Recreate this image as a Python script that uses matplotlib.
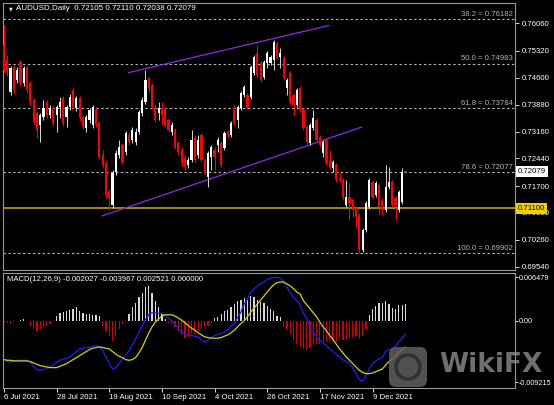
import numpy as np
import matplotlib.pyplot as plt
from matplotlib.patches import FancyBboxPatch, Circle
import matplotlib.transforms as mtransforms

# daily AUDUSD candles (bar 0 = 6 Jul 2021)
open_ = [0.7548, 0.7508, 0.7422, 0.7489, 0.7454, 0.7502, 0.7446, 0.7489, 0.7446, 0.7401,
         0.7366, 0.7334, 0.7355, 0.7395, 0.7360, 0.7379, 0.7360, 0.7382, 0.7406, 0.7355,
         0.7382, 0.7427, 0.7379, 0.7406, 0.7355, 0.7326, 0.7347, 0.7334, 0.7374, 0.7339,
         0.7253, 0.7232, 0.7154, 0.7119, 0.7208, 0.7253, 0.7280, 0.7261, 0.7307, 0.7293,
         0.7288, 0.7315, 0.7366, 0.7395, 0.7459, 0.7441, 0.7382, 0.7366, 0.7379, 0.7374,
         0.7347, 0.7315, 0.7320, 0.7285, 0.7267, 0.7245, 0.7226, 0.7240, 0.7299, 0.7253,
         0.7307, 0.7240, 0.7194, 0.7248, 0.7267, 0.7280, 0.7285, 0.7272, 0.7315, 0.7307,
         0.7374, 0.7347, 0.7379, 0.7414, 0.7414, 0.7409, 0.7473, 0.7527, 0.7500, 0.7462,
         0.7500, 0.7500, 0.7508, 0.7553, 0.7516, 0.7513, 0.7433, 0.7473, 0.7414, 0.7387,
         0.7433, 0.7374, 0.7328, 0.7285, 0.7326, 0.7347, 0.7301, 0.7259, 0.7293, 0.7240,
         0.7218, 0.7226, 0.7192, 0.7186, 0.7119, 0.7141, 0.7133, 0.7111, 0.7092, 0.6999,
         0.7052, 0.7114, 0.7181, 0.7146, 0.7173, 0.7133, 0.7106, 0.7168, 0.7181, 0.7138,
         0.7106, 0.7127, 0.72105]
high = [0.7602, 0.7521, 0.7492, 0.7494, 0.7489, 0.7508, 0.7492, 0.7494, 0.7451, 0.7406,
        0.7371, 0.7366, 0.7401, 0.7401, 0.7387, 0.7384, 0.7387, 0.7409, 0.7411, 0.7387,
        0.7417, 0.7435, 0.7411, 0.7411, 0.7360, 0.7360, 0.7379, 0.7387, 0.7382, 0.7344,
        0.7267, 0.7240, 0.7162, 0.7213, 0.7267, 0.7293, 0.7285, 0.7317, 0.7315, 0.7328,
        0.7326, 0.7374, 0.7409, 0.7481, 0.7465, 0.7446, 0.7390, 0.7395, 0.7395, 0.7379,
        0.7352, 0.7342, 0.7326, 0.7291, 0.7275, 0.7253, 0.7248, 0.7320, 0.7307, 0.7307,
        0.7312, 0.7245, 0.7264, 0.7280, 0.7275, 0.7301, 0.7291, 0.7317, 0.7320, 0.7344,
        0.7387, 0.7387, 0.7425, 0.7441, 0.7419, 0.7494, 0.7521, 0.7548, 0.7505, 0.7508,
        0.7532, 0.7521, 0.7561, 0.7559, 0.7540, 0.7518, 0.7459, 0.7478, 0.7419, 0.7433,
        0.7438, 0.7379, 0.7334, 0.7339, 0.7374, 0.7352, 0.7307, 0.7293, 0.7299, 0.7267,
        0.7240, 0.7232, 0.7208, 0.7192, 0.7186, 0.7178, 0.7138, 0.7117, 0.7098, 0.7058,
        0.7130, 0.7192, 0.7186, 0.7184, 0.7178, 0.7138, 0.7226, 0.7221, 0.7186, 0.7143,
        0.7159, 0.7218, 0.72110]
low = [0.7476, 0.7465, 0.7414, 0.7419, 0.7446, 0.7438, 0.7438, 0.7419, 0.7387, 0.7336,
       0.7299, 0.7288, 0.7347, 0.7352, 0.7352, 0.7331, 0.7315, 0.7352, 0.7331, 0.7328,
       0.7374, 0.7376, 0.7371, 0.7344, 0.7323, 0.7315, 0.7339, 0.7326, 0.7328, 0.7243,
       0.7218, 0.7138, 0.7106, 0.7111, 0.7200, 0.7245, 0.7229, 0.7253, 0.7280, 0.7285,
       0.7280, 0.7309, 0.7358, 0.7390, 0.7422, 0.7376, 0.7342, 0.7347, 0.7334, 0.7328,
       0.7315, 0.7307, 0.7269, 0.7253, 0.7224, 0.7213, 0.7218, 0.7234, 0.7232, 0.7245,
       0.7234, 0.7200, 0.7168, 0.7213, 0.7213, 0.7261, 0.7221, 0.7267, 0.7299, 0.7301,
       0.7334, 0.7326, 0.7374, 0.7409, 0.7376, 0.7403, 0.7468, 0.7462, 0.7449, 0.7457,
       0.7486, 0.7494, 0.7481, 0.7510, 0.7486, 0.7454, 0.7414, 0.7390, 0.7360, 0.7382,
       0.7368, 0.7320, 0.7283, 0.7280, 0.7320, 0.7288, 0.7275, 0.7248, 0.7226, 0.7216,
       0.7208, 0.7181, 0.7181, 0.7133, 0.7114, 0.7079, 0.7087, 0.7060, 0.6990, 0.6993,
       0.7047, 0.7109, 0.7135, 0.7141, 0.7092, 0.7092, 0.7101, 0.7162, 0.7114, 0.7079,
       0.7101, 0.7122, 0.72038]
close = [0.7481, 0.7473, 0.7486, 0.7427, 0.7481, 0.7446, 0.7486, 0.7427, 0.7395, 0.7342,
         0.7320, 0.7360, 0.7379, 0.7360, 0.7379, 0.7339, 0.7382, 0.7395, 0.7339, 0.7382,
         0.7409, 0.7382, 0.7406, 0.7352, 0.7328, 0.7355, 0.7374, 0.7382, 0.7334, 0.7248,
         0.7226, 0.7146, 0.7138, 0.7205, 0.7259, 0.7275, 0.7234, 0.7312, 0.7288, 0.7320,
         0.7315, 0.7368, 0.7401, 0.7454, 0.7433, 0.7382, 0.7347, 0.7379, 0.7360, 0.7334,
         0.7320, 0.7334, 0.7275, 0.7261, 0.7232, 0.7221, 0.7240, 0.7293, 0.7240, 0.7293,
         0.7240, 0.7205, 0.7259, 0.7275, 0.7248, 0.7293, 0.7226, 0.7312, 0.7307, 0.7339,
         0.7339, 0.7382, 0.7419, 0.7435, 0.7382, 0.7489, 0.7516, 0.7468, 0.7454, 0.7502,
         0.7527, 0.7516, 0.7556, 0.7516, 0.7527, 0.7459, 0.7454, 0.7395, 0.7387, 0.7427,
         0.7374, 0.7326, 0.7288, 0.7334, 0.7352, 0.7293, 0.7280, 0.7288, 0.7232, 0.7221,
         0.7234, 0.7186, 0.7186, 0.7138, 0.7141, 0.7125, 0.7106, 0.7087, 0.6999, 0.7052,
         0.7125, 0.7186, 0.7141, 0.7178, 0.7114, 0.7106, 0.7168, 0.7181, 0.7119, 0.7119,
         0.7154, 0.7208, 0.72079]

# MACD(12,26,9) sub window
macd_hist = [-0.0002, -0.0004, -0.0003, -0.0002, -0.0001, 0.0001, 0.0003, -0.0001, -0.0008, -0.0013,
             -0.0015, -0.0013, -0.0010, -0.0008, -0.0005, -0.0002, 0.00075, 0.0011, 0.00125, 0.0014,
             0.0016, 0.0017, 0.0020, 0.0015, 0.00115, 0.0010, 0.0010, 0.0009, 0.00085, 0.00075,
             -0.00075, -0.0015, -0.00225, -0.0030, -0.00225, -0.00125, -0.0005, -0.00015, 0.0010, 0.0020,
             0.0027, 0.0035, 0.0042, 0.0050, 0.0052, 0.0042, 0.0030, 0.0020, 0.0010, 0.0002,
             -0.0003, -0.0005, -0.0010, -0.0015, -0.0021, -0.0025, -0.0024, -0.0020, -0.0019, -0.0015,
             -0.0012, -0.0010, -0.0008, -0.0004, 0.0004, 0.0006, 0.0010, 0.0014, 0.0016, 0.0020,
             0.0025, 0.0029, 0.0031, 0.0034, 0.0034, 0.0037, 0.0035, 0.0031, 0.0028, 0.0026,
             0.0022, 0.0017, 0.0015, 0.00075, 0.0005, -0.00075, -0.00125, -0.0020, -0.0029, -0.0035,
             -0.0039, -0.0042, -0.0044, -0.0040, -0.0036, -0.0035, -0.0034, -0.0032, -0.0032, -0.0031,
             -0.0030, -0.0030, -0.0029, -0.0028, -0.0027, -0.0025, -0.0024, -0.0022, -0.0027, -0.0022,
             -0.00125, 0.0008, 0.0017, 0.0022, 0.0026, 0.0027, 0.0030, 0.0025, 0.0019, 0.0017,
             0.0024, 0.0024, 0.002521]
macd_main = [-0.0057, -0.0061, -0.0062, -0.0060, -0.0059, -0.0059, -0.0059, -0.0059, -0.0062, -0.0068,
             -0.0073, -0.0074, -0.0073, -0.0071, -0.0069, -0.0066, -0.0062, -0.0059, -0.0057, -0.0056,
             -0.0054, -0.0050, -0.0046, -0.0042, -0.0041, -0.0040, -0.0040, -0.0038, -0.0037, -0.0039,
             -0.0045, -0.0054, -0.0064, -0.0072, -0.0070, -0.0064, -0.0057, -0.0051, -0.0045, -0.0036,
             -0.0027, -0.0017, -0.0008, 0.0002, 0.0009, 0.0012, 0.0012, 0.0011, 0.0011, 0.0008,
             0.0004, 0.0000, -0.0006, -0.0012, -0.0017, -0.0020, -0.0022, -0.0022, -0.0023, -0.0024,
             -0.0028, -0.0032, -0.0029, -0.0025, -0.0022, -0.0020, -0.0019, -0.0017, -0.0013, -0.0008,
             -0.0003, 0.0005, 0.0013, 0.0025, 0.0032, 0.0043, 0.0048, 0.0052, 0.0055, 0.0058,
             0.0062, 0.0064, 0.0065, 0.0065, 0.0064, 0.0058, 0.0050, 0.0042, 0.0035, 0.0030,
             0.0024, 0.0011, 0.0004, -0.0010, -0.0017, -0.0024, -0.0029, -0.0033, -0.0037, -0.0042,
             -0.0046, -0.0050, -0.0054, -0.0058, -0.0061, -0.0064, -0.0070, -0.0079, -0.0088, -0.0090,
             -0.0082, -0.0072, -0.0064, -0.0060, -0.0057, -0.0055, -0.0046, -0.0043, -0.0042, -0.0038,
             -0.0031, -0.0026, -0.002027]
macd_signal = [-0.0058, -0.0059, -0.0059, -0.0060, -0.0060, -0.0060, -0.0060, -0.0060, -0.0061, -0.0063,
               -0.0065, -0.0067, -0.0068, -0.0069, -0.0070, -0.0070, -0.0070, -0.0068, -0.0066, -0.0064,
               -0.0061, -0.0058, -0.0055, -0.0052, -0.0049, -0.0046, -0.0043, -0.0041, -0.0040, -0.0039,
               -0.0040, -0.0041, -0.0042, -0.0046, -0.0050, -0.0053, -0.0055, -0.0058, -0.0059, -0.0058,
               -0.0055, -0.0048, -0.0040, -0.0029, -0.0018, -0.0009, -0.0002, 0.0003, 0.0007, 0.0009,
               0.0009, 0.0009, 0.0007, 0.0004, 0.0001, -0.0003, -0.0007, -0.0011, -0.0014, -0.0018,
               -0.0021, -0.0024, -0.0025, -0.0026, -0.0026, -0.0026, -0.0025, -0.0023, -0.0021, -0.0018,
               -0.0014, -0.0009, -0.0004, 0.0000, 0.0006, 0.0013, 0.0019, 0.0025, 0.0031, 0.0037,
               0.0043, 0.0049, 0.0054, 0.0057, 0.0058, 0.0058, 0.0055, 0.0052, 0.0048, 0.0043,
               0.0040, 0.0030, 0.0024, 0.0018, 0.0012, 0.0006, -0.0002, -0.0009, -0.0015, -0.0022,
               -0.0028, -0.0035, -0.0042, -0.0048, -0.0054, -0.0059, -0.0064, -0.0069, -0.0074, -0.0077,
               -0.0079, -0.0079, -0.0078, -0.0076, -0.0074, -0.0072, -0.0066, -0.0061, -0.0057, -0.0052,
               -0.0047, -0.0043, -0.003967]

date_pos = [0, 16, 32, 48, 64, 80, 96, 112]
date_labels = ["6 Jul 2021", "28 Jul 2021", "19 Aug 2021", "10 Sep 2021",
               "4 Oct 2021", "26 Oct 2021", "17 Nov 2021", "9 Dec 2021"]
price_ticks = [0.76060, 0.75320, 0.74600, 0.73880, 0.73160, 0.72440,
               0.71700, 0.70980, 0.70260, 0.69540]

fib_levels = [0.76182, 0.74983, 0.73784, 0.72077, 0.69902]
fib_names = ["38.2", "50.0", "61.8", "78.6", "100.0"]
support = 0.71100
last_price = 0.72079

# channel lines (bar index, price)
upper_x = [37.9, 98.7]
upper_y = [0.7474, 0.7600]
lower_x = [29.8, 108.7]
lower_y = [0.7090, 0.7328]

plt.rcParams['font.family'] = ['Liberation Sans', 'DejaVu Sans']
fg = 'white'
frame = '#9a9a9a'

o = np.array(open_)
h = np.array(high)
l = np.array(low)
c = np.array(close)
idx = np.arange(len(c))
up = c >= o

fig = plt.figure(figsize=(5.54, 4.05), dpi=100, facecolor='black')
ax = fig.add_axes([3/554, 135/405, 512/554, 267/405], facecolor='black')
ax2 = fig.add_axes([3/554, 17.5/405, 512/554, 115/405], facecolor='black')

# fib levels
for lev, name in zip(fib_levels, fib_names):
    ax.axhline(lev, color='#b4b4b4', lw=0.8, ls=(0, (2.2, 2.2)), zorder=1)
    ax.text(154.7, lev + 0.0003, f"{name} = {lev:.5f}", color='#b4b4b4',
            fontsize=5.6, ha='right', va='bottom', zorder=2)

ax.axhline(support, color='#d2b000', lw=1.1, zorder=1)
ax.plot(upper_x, upper_y, color='#8a2be2', lw=0.9, zorder=2)
ax.plot(lower_x, lower_y, color='#8a2be2', lw=0.9, zorder=2)

# candles
wick_col = np.where(up, '#d0d0d0', '#ff0000')
body_col = np.where(up, '#ffffff', '#ff0000')
ax.vlines(idx, l, h, colors=wick_col, lw=0.75, zorder=3)
body = np.maximum(np.abs(c - o), 0.00006)
ax.bar(idx, body, bottom=np.minimum(o, c), width=0.66, color=body_col,
       linewidth=0, zorder=4)

ax.set_xlim(-0.3, 155.3)
ax.set_ylim(0.69451, 0.76604)
ax.set_xticks([])
ax.yaxis.tick_right()
ax.set_yticks(price_ticks)
ax.set_yticklabels([f"{p:.5f}" for p in price_ticks])
ax.tick_params(axis='y', colors=fg, labelsize=5.6, length=3, width=0.6, pad=1.5)
for s in ax.spines.values():
    s.set_color(frame)
    s.set_linewidth(0.8)

trans = mtransforms.blended_transform_factory(ax.transAxes, ax.transData)
ax.text(1.005, last_price, f"{last_price:.5f}", transform=trans, fontsize=5.6,
        color='black', va='center', ha='left', zorder=10, clip_on=False,
        bbox=dict(boxstyle='square,pad=0.25', fc='white', ec='none'))
ax.text(1.005, support, f"{support:.5f}", transform=trans, fontsize=5.6,
        color='black', va='center', ha='left', zorder=10, clip_on=False,
        bbox=dict(boxstyle='square,pad=0.25', fc='#f2d000', ec='none'))

fig.text(9/554, 1 - 8.5/405, "\u25bc", color=fg, fontsize=3.5, va='center',
         family='DejaVu Sans')
fig.text(16/554, 1 - 8/405, "AUDUSD,Daily  0.72105 0.72110 0.72038 0.72079",
         color=fg, fontsize=5.8, va='center')

# MACD panel
hist = np.array(macd_hist)
hcol = np.where(hist >= 0, '#d8d8d8', '#d00000')
ax2.bar(idx, hist, width=0.38, color=hcol, linewidth=0, zorder=2)
ax2.plot(idx, macd_main, color='#1e1eff', lw=0.9, zorder=3)
ax2.plot(idx, macd_signal, color='#d8d000', lw=0.9, zorder=3)
ax2.set_xlim(-0.3, 155.3)
ax2.set_ylim(-0.00997, 0.00722)
ax2.yaxis.tick_right()
ax2.set_yticks([0.006479, 0.0, -0.009215])
ax2.set_yticklabels(["0.006479", "0.00", "-0.009215"])
ax2.tick_params(axis='y', colors=fg, labelsize=5.2, length=2, width=0.6, pad=0.8)
ax2.set_xticks(date_pos)
ax2.set_xticklabels(date_labels, ha='left')
ax2.tick_params(axis='x', colors=fg, labelsize=5.6, length=3, width=0.6, pad=1.5)
for s in ax2.spines.values():
    s.set_color(frame)
    s.set_linewidth(0.8)
ax2.text(0.007, 0.94, "MACD(12,26,9) -0.002027 -0.003967 0.002521 0.000000",
         transform=ax2.transAxes, color=fg, fontsize=5.6, va='center')

# WikiFX watermark
logo = FancyBboxPatch((3.89, 0.18), 0.38, 0.40, boxstyle='round,pad=0,rounding_size=0.07',
                      transform=fig.dpi_scale_trans, fc='#606060', ec='none', alpha=0.85,
                      zorder=20)
fig.patches.append(logo)
ring = Circle((4.08, 0.38), 0.12, transform=fig.dpi_scale_trans, fill=False,
              ec='#2e2e2e', lw=2.5, alpha=0.9, zorder=21)
fig.patches.append(ring)
fig.text(491/554, 1 - 365/405, "WikiFX", color='#8c8c8c', alpha=0.8, fontsize=19,
         fontweight='bold', family='DejaVu Sans', ha='center', va='center', zorder=22)

fig.savefig('out.png', dpi=100, facecolor='black')
